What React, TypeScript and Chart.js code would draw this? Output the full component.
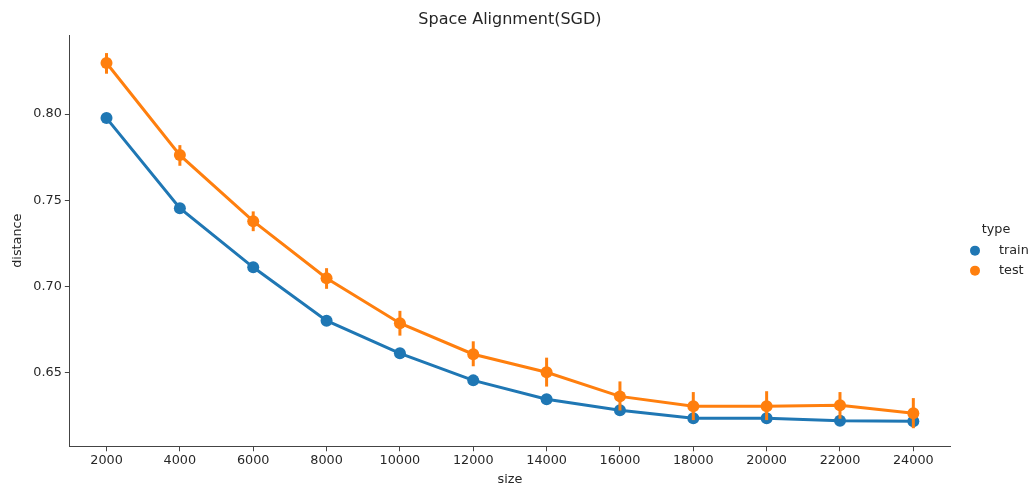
import React, { useEffect, useRef } from "react";
import { Chart, registerables } from "chart.js";

Chart.register(...registerables);

const sizes = ["2000", "4000", "6000", "8000", "10000", "12000", "14000", "16000", "18000", "20000", "22000", "24000"];
const trainMean = [0.7977, 0.7453, 0.711, 0.680, 0.661, 0.6453, 0.6343, 0.6279, 0.6233, 0.6233, 0.6218, 0.6215];
const trainLow = [0.7960, 0.7438, 0.7095, 0.6788, 0.6598, 0.6440, 0.6330, 0.6262, 0.6218, 0.6218, 0.6200, 0.6180];
const trainHigh = [0.7995, 0.7470, 0.7125, 0.6812, 0.6622, 0.6468, 0.6356, 0.6295, 0.6248, 0.6248, 0.6236, 0.6250];
const testMean = [0.8297, 0.7762, 0.7378, 0.7047, 0.6785, 0.6605, 0.650, 0.636, 0.6302, 0.6302, 0.6308, 0.6262];
const testLow = [0.8235, 0.7700, 0.7320, 0.6985, 0.6713, 0.6535, 0.6417, 0.6278, 0.6222, 0.6222, 0.6230, 0.6175];
const testHigh = [0.8355, 0.7820, 0.7435, 0.7105, 0.6857, 0.6680, 0.6585, 0.6447, 0.6385, 0.6390, 0.6385, 0.6350];
const yTicks = [0.65, 0.7, 0.75, 0.8];
const legendTitle = "type";
const chartTitle = "Space Alignment(SGD)";

const BLUE = "#1f77b4";
const ORANGE = "#ff7f0e";
const FONT = "'DejaVu Sans', sans-serif";
const TEXT = "#262626";
const FS = 12.8;

const errorBars = {
  id: "errorBars",
  afterDatasetDraw(chart: any, args: any) {
    const ds = chart.data.datasets[args.index];
    const low: number[] = ds.errLow;
    const high: number[] = ds.errHigh;
    if (!low || !high) return;
    const ctx = chart.ctx;
    const y = chart.scales.y;
    ctx.save();
    ctx.strokeStyle = ds.borderColor;
    ctx.lineWidth = 3;
    args.meta.data.forEach((pt: any, i: number) => {
      ctx.beginPath();
      ctx.moveTo(pt.x, y.getPixelForValue(low[i]));
      ctx.lineTo(pt.x, y.getPixelForValue(high[i]));
      ctx.stroke();
    });
    ctx.restore();
  },
};

const sideLegend = {
  id: "sideLegend",
  afterDraw(chart: any) {
    const ctx = chart.ctx;
    const area = chart.chartArea;
    const mid = (area.top + area.bottom) / 2;
    const x0 = area.right + 25;
    ctx.save();
    // title centred over the axes
    ctx.font = `16px ${FONT}`;
    ctx.fillStyle = TEXT;
    ctx.textBaseline = "middle";
    ctx.textAlign = "center";
    ctx.fillText(chartTitle, (area.left + area.right) / 2, 20);
    // legend
    ctx.font = `${FS}px ${FONT}`;
    ctx.fillText(legendTitle, x0 + 21, mid - 10.5);
    ctx.textAlign = "left";
    chart.data.datasets.forEach((ds: any, i: number) => {
      const yy = mid + 10 + i * 20;
      ctx.beginPath();
      ctx.fillStyle = ds.backgroundColor;
      ctx.arc(x0, yy, 5, 0, Math.PI * 2);
      ctx.fill();
      ctx.fillStyle = TEXT;
      ctx.fillText(ds.label, x0 + 24, yy);
    });
    ctx.restore();
  },
};

export default function App() {
  const ref = useRef<HTMLCanvasElement | null>(null);
  useEffect(() => {
    document.body.style.margin = "0";
    const chart = new Chart(ref.current as HTMLCanvasElement, {
      type: "line",
      data: {
        labels: sizes,
        datasets: [
          {
            label: "train",
            data: trainMean,
            borderColor: BLUE,
            backgroundColor: BLUE,
            borderWidth: 3,
            pointRadius: 6,
            pointHoverRadius: 6,
            pointBorderWidth: 0,
            tension: 0,
            order: 1,
            errLow: trainLow,
            errHigh: trainHigh,
          } as any,
          {
            label: "test",
            data: testMean,
            borderColor: ORANGE,
            backgroundColor: ORANGE,
            borderWidth: 3,
            pointRadius: 6,
            pointHoverRadius: 6,
            pointBorderWidth: 0,
            tension: 0,
            order: 0,
            errLow: testLow,
            errHigh: testHigh,
          } as any,
        ],
      },
      options: {
        responsive: false,
        animation: false,
        layout: { padding: { top: 35, right: 81, bottom: 0, left: 0 } },
        plugins: {
          title: { display: false },
          legend: { display: false },
          tooltip: { enabled: false },
        },
        scales: {
          x: {
            type: "category",
            offset: true,
            grid: { display: true, drawOnChartArea: false, drawTicks: true, tickLength: 5, color: "#444", lineWidth: 1 },
            border: { display: true, color: "#444", width: 1 },
            ticks: { color: TEXT, font: { family: FONT, size: FS }, padding: 2, maxRotation: 0, autoSkip: false },
            title: { display: true, text: "size", color: TEXT, font: { family: FONT, size: FS }, padding: { top: 1, bottom: 0 } },
          },
          y: {
            min: 0.607,
            max: 0.846,
            afterBuildTicks: (scale: any) => {
              scale.ticks = yTicks.map((v) => ({ value: v }));
            },
            grid: { display: true, drawOnChartArea: false, drawTicks: true, tickLength: 5, color: "#444", lineWidth: 1 },
            border: { display: true, color: "#444", width: 1 },
            ticks: {
              color: TEXT,
              font: { family: FONT, size: FS },
              padding: 3,
              callback: (v: any) => Number(v).toFixed(2),
            },
            title: { display: true, text: "distance", color: TEXT, font: { family: FONT, size: FS }, padding: { top: 10, bottom: 5 } },
          },
        },
      },
      plugins: [errorBars, sideLegend],
    } as any);
    return () => chart.destroy();
  }, []);
  return (
    <div style={{ position: "absolute", left: 0, top: 0, width: 1031, height: 487 }}>
      <canvas ref={ref} width={1031} height={487} />
    </div>
  );
}
